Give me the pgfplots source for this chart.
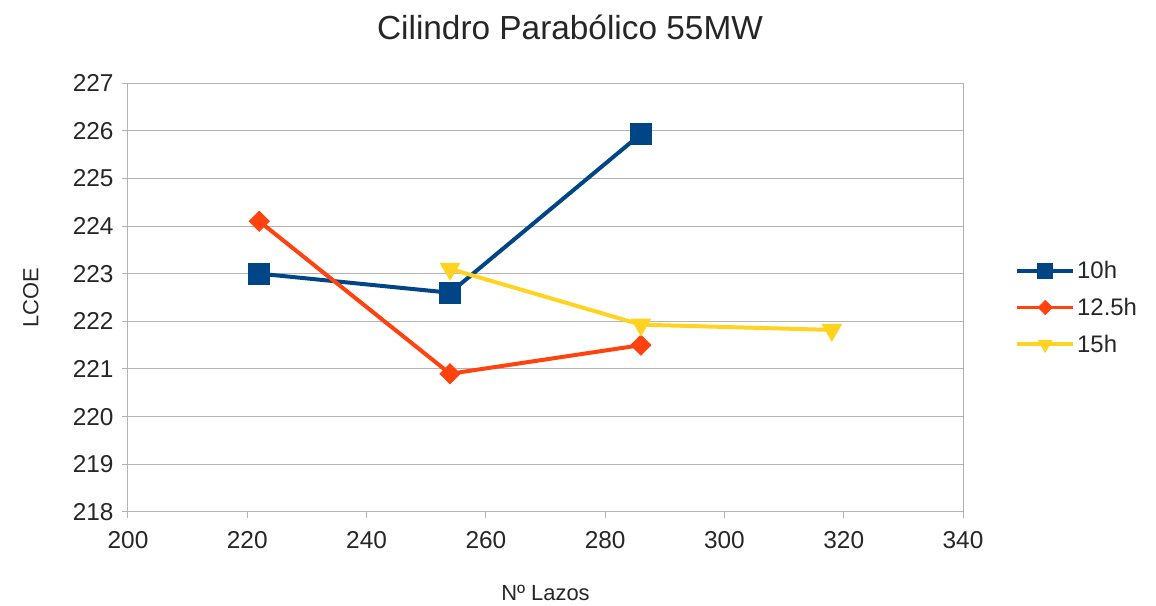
\documentclass[border=0pt]{standalone}
\usepackage{pgfplots}
\pgfplotsset{compat=1.18}
\usepackage{fontspec}
\setmainfont{Liberation Sans}
\definecolor{c10}{HTML}{004586}
\definecolor{c125}{HTML}{FF420E}
\definecolor{c15}{HTML}{FFD320}
\definecolor{gridc}{HTML}{B3B3B3}
\begin{document}
\begin{tikzpicture}[x=1bp,y=1bp]
\useasboundingbox (-128,-94) rectangle (1028,512);
\begin{axis}[
  at={(0,0)}, anchor=south west,
  scale only axis, width=835bp, height=429bp,
  xmin=200, xmax=340, ymin=218, ymax=227,
  xtick={200,220,...,340}, ytick={218,219,...,227},
  ymajorgrids, grid style={gridc, line width=1pt},
  axis line style={gridc, line width=1pt},
  tick style={gridc, line width=1pt},
  tick align=outside, major tick length=6bp,
  xtick pos=bottom, ytick pos=left,
  ticklabel style={font=\fontsize{24.5}{28}\selectfont, text=black!85},
  xticklabel style={yshift=-10bp},
  yticklabel style={xshift=-5bp},
  /pgf/number format/assume math mode=true,
  /pgf/number format/1000 sep={},
  xlabel={Nº Lazos}, ylabel={LCOE},
  label style={font=\fontsize{22}{26}\selectfont, text=black!85},
  xlabel style={at={(axis description cs:0.5,0)}, anchor=north, yshift=-70bp},
  ylabel style={at={(axis description cs:0,0.5)}, anchor=south, yshift=86bp},
  legend style={at={(1,0.5)}, anchor=west, xshift=49bp, yshift=-10bp, draw=none, fill=none,
    font=\fontsize{24}{28}\selectfont, text=black!85, row sep=14bp,
    /tikz/every even column/.append style={column sep=11bp}},
  legend cell align=left,
  legend image code/.code={
    \draw[#1, every mark/.append style={scale=0.7}, mark repeat=2, mark phase=2] plot coordinates {(0bp,0bp) (28bp,0bp) (56bp,0bp)};},
  every axis plot/.append style={line width=4pt},
  clip=false,
]
\addplot[c10, mark=square*, mark size=10.5bp, mark options={line width=1pt}] coordinates {(222,223.0) (254,222.6) (286,225.93)};
\addlegendentry{10h}
\addplot[c125, mark=square*, mark size=7bp, mark options={rotate=45, line width=1pt}] coordinates {(222,224.1) (254,220.9) (286,221.5)};
\addlegendentry{12.5h}
\addplot[c15, mark=triangle*, mark size=11bp, mark options={rotate=180, line width=1pt}] coordinates {(254,223.1) (286,221.93) (318,221.82)};
\addlegendentry{15h}
\end{axis}
\node[font=\fontsize{33.5}{38}\selectfont, text=black!85] at (442,485) {Cilindro Parabólico 55MW};
\end{tikzpicture}
\end{document}
